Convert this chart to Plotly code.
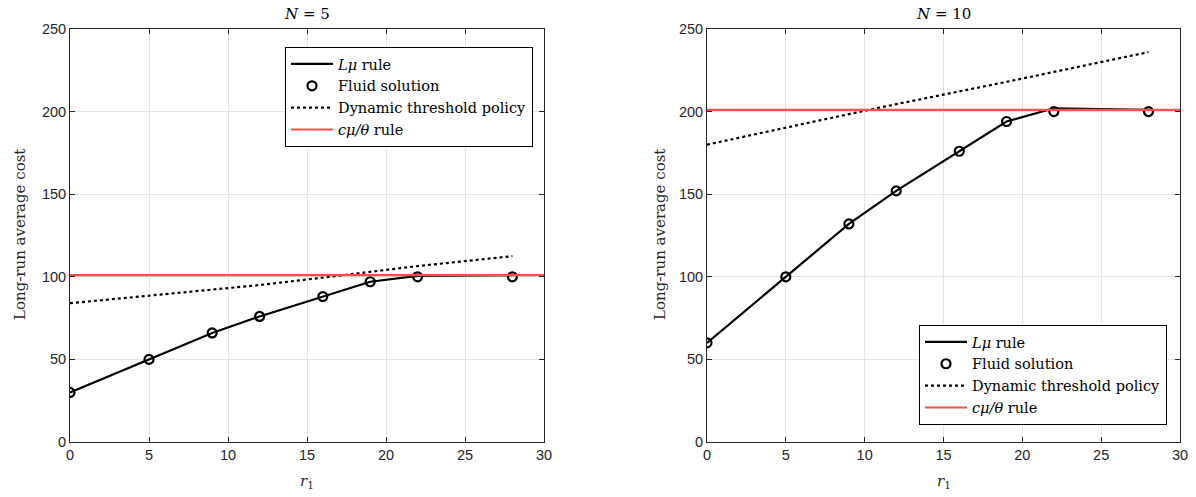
import plotly.graph_objects as go

W, H = 1196, 497

r1 = [0, 5, 9, 12, 16, 19, 22, 28]

# N = 5
lmu_5 = [30, 50, 66, 76, 88, 97, 100.6, 101]
fluid_5 = [30, 50, 66, 76, 88, 97, 100, 100]
dyn_5 = [84, 88.5, 92.5, 95, 99.5, 103, 106.5, 112.5]
cmu_x = [0, 30]
cmu_5 = [101, 101]

# N = 10
lmu_10 = [60, 100, 132, 152, 176, 194, 202, 201]
fluid_10 = [60, 100, 132, 152, 176, 194, 200, 200]
dyn_10 = [180, 190.5, 198.5, 204.5, 212, 218, 224, 236]
cmu_10 = [201, 201]

xticks = [0, 5, 10, 15, 20, 25, 30]
yticks = [0, 50, 100, 150, 200, 250]

BLACK = "#000000"
RED = "#ff4d4d"
AX = "#262626"
SERIF = "DejaVu Serif, serif"
SANS = "Liberation Sans, Arial, Helvetica, sans-serif"

L1, R1 = 70, 544
L2, R2 = 707, 1180
TOP, BOT = 29, 442

fig = go.Figure()

def add_panel(xa, ya, leg, lmu, fluid, dyn, cmu):
    fig.add_trace(go.Scatter(x=r1, y=lmu, mode="lines", name="<i>Lμ</i> rule",
                             line=dict(color=BLACK, width=2.2), xaxis=xa, yaxis=ya, legend=leg))
    fig.add_trace(go.Scatter(x=r1, y=fluid, mode="markers", name="Fluid solution",
                             marker=dict(symbol="circle-open", size=9, color=BLACK, line=dict(width=2.2)),
                             xaxis=xa, yaxis=ya, legend=leg))
    fig.add_trace(go.Scatter(x=r1, y=dyn, mode="lines", name="Dynamic threshold policy",
                             line=dict(color=BLACK, width=2.2, dash="dot"), xaxis=xa, yaxis=ya, legend=leg))
    fig.add_trace(go.Scatter(x=cmu_x, y=cmu, mode="lines", name="<i>cμ/θ</i> rule",
                             line=dict(color=RED, width=2.2), xaxis=xa, yaxis=ya, legend=leg))

add_panel("x", "y", "legend", lmu_5, fluid_5, dyn_5, cmu_5)
add_panel("x2", "y2", "legend2", lmu_10, fluid_10, dyn_10, cmu_10)

ydom = [(H - BOT) / H, (H - TOP) / H]

axcommon = dict(showline=True, linecolor=AX, linewidth=1, mirror="ticks", ticks="inside",
                ticklen=5, tickcolor=AX, showgrid=True, gridcolor="#e3e3e3", gridwidth=1,
                zeroline=False, automargin=False, tickfont=dict(family=SANS, size=14.5, color=AX))

legcommon = dict(bordercolor=BLACK, borderwidth=1, bgcolor="white",
                 font=dict(family=SERIF, size=14.5, color=BLACK), itemwidth=42,
                 tracegroupgap=0)

fig.update_layout(
    width=W, height=H,
    margin=dict(l=0, r=0, t=0, b=0),
    paper_bgcolor="white", plot_bgcolor="white",
    showlegend=True,
    xaxis=dict(domain=[L1 / W, R1 / W], range=[0, 30], tickvals=xticks, anchor="y", **axcommon),
    yaxis=dict(domain=ydom, range=[0, 250], tickvals=yticks, anchor="x", **axcommon),
    xaxis2=dict(domain=[L2 / W, R2 / W], range=[0, 30], tickvals=xticks, anchor="y2", **axcommon),
    yaxis2=dict(domain=ydom, range=[0, 250], tickvals=yticks, anchor="x2", **axcommon),
    legend=dict(x=533 / W, xanchor="right", y=1 - 47 / H, yanchor="top", **legcommon),
    legend2=dict(x=1167 / W, xanchor="right", y=1 - 425 / H, yanchor="bottom", **legcommon),
)

ann = []
for cx, t in [((L1 + R1) / 2, "<i>N</i> = 5"), ((L2 + R2) / 2, "<i>N</i> = 10")]:
    ann.append(dict(x=cx / W, y=1 - 14 / H, xref="paper", yref="paper", text=t, showarrow=False,
                    font=dict(family=SERIF, size=15, color=BLACK), xanchor="center", yanchor="middle"))
for cx in [(L1 + R1) / 2, (L2 + R2) / 2]:
    ann.append(dict(x=cx / W, y=1 - 481 / H, xref="paper", yref="paper", text="<i>r</i><sub>1</sub>",
                    showarrow=False, font=dict(family=SERIF, size=15, color=AX),
                    xanchor="center", yanchor="middle"))
for cx in [20, 660]:
    ann.append(dict(x=cx / W, y=1 - 235 / H, xref="paper", yref="paper", text="Long-run average cost",
                    showarrow=False, textangle=-90, font=dict(family=SERIF, size=15, color=AX),
                    xanchor="center", yanchor="middle"))
fig.update_layout(annotations=ann)

fig.write_html("out.html", config={"displayModeBar": False},
               post_script="document.body.style.margin='0';document.body.style.overflow='hidden';")
